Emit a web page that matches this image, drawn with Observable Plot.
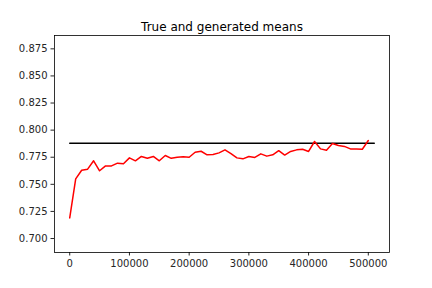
<!DOCTYPE html>
<html>
<head>
<meta charset="utf-8">
<script src="https://cdn.jsdelivr.net/npm/d3@7"></script>
<script src="https://cdn.jsdelivr.net/npm/@observablehq/plot@0.6"></script>
<style>
  html, body { margin: 0; padding: 0; background: #fff; }
  svg { display: block; }
</style>
</head>
<body>
<div id="chart"></div>
<script>
const title = "True and generated means";
const steps = [0, 10000, 20000, 30000, 40000, 50000, 60000, 70000, 80000, 90000,
  100000, 110000, 120000, 130000, 140000, 150000, 160000, 170000, 180000, 190000,
  200000, 210000, 220000, 230000, 240000, 250000, 260000, 270000, 280000, 290000,
  300000, 310000, 320000, 330000, 340000, 350000, 360000, 370000, 380000, 390000,
  400000, 410000, 420000, 430000, 440000, 450000, 460000, 470000, 480000, 490000, 500000];
const generatedMeans = [0.719, 0.755, 0.763, 0.764, 0.7717, 0.7625, 0.767, 0.767, 0.7695, 0.769,
  0.7744, 0.7717, 0.7757, 0.774, 0.7757, 0.7717, 0.7766, 0.774, 0.775, 0.7754,
  0.775, 0.7796, 0.7805, 0.7772, 0.7775, 0.779, 0.7818, 0.7784, 0.7744, 0.7735,
  0.7757, 0.7748, 0.7781, 0.776, 0.7772, 0.781, 0.777, 0.7803, 0.7818, 0.7824,
  0.7803, 0.7895, 0.7827, 0.7815, 0.7876, 0.7858, 0.785, 0.7827, 0.7827, 0.7824, 0.7904];
const trueX = [0, 510000];
const trueMean = [0.7879, 0.7879];
const xTicks = [0, 100000, 200000, 300000, 400000, 500000];
const yTicks = [0.700, 0.725, 0.750, 0.775, 0.800, 0.825, 0.850, 0.875];

const genData = steps.map((s, i) => ({x: s, y: generatedMeans[i]}));
const trueData = trueX.map((s, i) => ({x: s, y: trueMean[i]}));

const plot = Plot.plot({
  width: 432,
  height: 288,
  marginLeft: 54,
  marginRight: 43,
  marginTop: 35,
  marginBottom: 36,
  style: {fontFamily: "DejaVu Sans", fontSize: "10px", color: "#262626", background: "#fff"},
  x: {domain: [-25500, 535500], ticks: xTicks, tickFormat: d3.format("d"), label: null},
  y: {domain: [0.6871, 0.8873], ticks: yTicks, tickFormat: d3.format(".3f"), label: null},
  marks: [
    Plot.axisX({ticks: xTicks, tickFormat: d3.format("d"), tickSize: 3.5, tickPadding: 3.5, label: null, stroke: "#262626", fill: "#262626", fontSize: 10}),
    Plot.axisY({ticks: yTicks, tickFormat: d3.format(".3f"), tickSize: 3.5, tickPadding: 3.5, label: null, stroke: "#262626", fill: "#262626", fontSize: 10}),
    Plot.line(trueData, {x: "x", y: "y", stroke: "black", strokeWidth: 1.5}),
    Plot.line(genData, {x: "x", y: "y", stroke: "red", strokeWidth: 1.5}),
    Plot.frame({stroke: "black", strokeWidth: 0.8}),
    Plot.text([title], {frameAnchor: "top", text: d => d, dy: -5, lineAnchor: "bottom", fontSize: 12, fill: "black"})
  ]
});
document.getElementById("chart").appendChild(plot);
</script>
</body>
</html>
